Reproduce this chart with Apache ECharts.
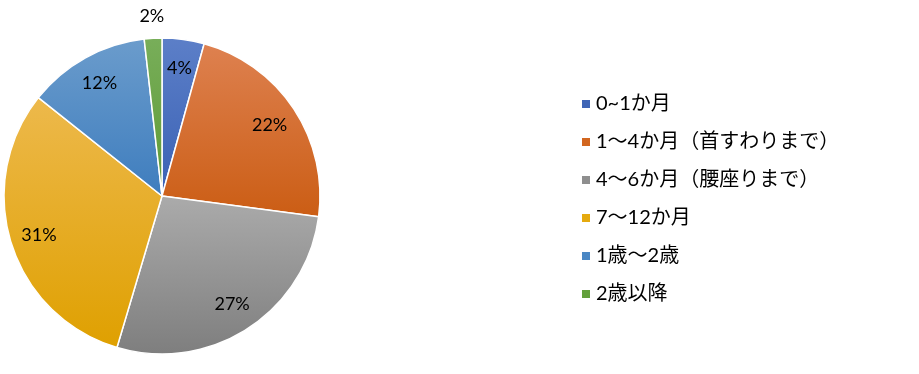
<!DOCTYPE html>
<html><head><meta charset="utf-8">
<script src="https://cdn.jsdelivr.net/npm/echarts@6/dist/echarts.min.js"></script>
<style>html,body{margin:0;padding:0;background:#fff}#c{width:919px;height:374px}</style>
</head><body><div id="c"></div>
<script>
var categories = ['0~1か月', '1～4か月（首すわりまで）', '4～6か月（腰座りまで）', '7～12か月', '1歳～2歳', '2歳以降'];
var values = [4.3, 22.8, 27.5, 31.1, 12.5, 1.8];
var pctLabels = ['4%', '22%', '27%', '31%', '12%', '2%'];
var topColors = ['#5C7FC8', '#DE8150', '#ABABAB', '#EDB94C', '#6B9CCC', '#78AE5A'];
var bottomColors = ['#3A61B4', '#CB5D14', '#7E7E7E', '#DFA000', '#3E7DBE', '#5E9A34'];
var legendColors = ['#3F65B6', '#D2661F', '#8E8E8E', '#E5AA0F', '#4A87C4', '#63A03C'];

var chart = echarts.init(document.getElementById('c'), null, {renderer: 'canvas'});
var center = [162, 196];
var R = 158;
function grad(i){
  return new echarts.graphic.LinearGradient(0, 0, 0, 1, [
    {offset: 0, color: topColors[i]}, {offset: 1, color: bottomColors[i]}]);
}
var mainData = categories.map(function(n, i){ return {name: n, value: values[i], itemStyle: {color: grad(i)}}; });
function pctText(p){ return pctLabels[p.dataIndex]; }
var innerLabels = categories.map(function(n, i){
  return {name: n, value: values[i], label: {show: i !== 5}};
});
var outerLabels = categories.map(function(n, i){
  return {name: n, value: values[i], label: {show: i === 5}};
});
var labelFont = {fontFamily: 'Lato, "Noto Sans CJK JP", sans-serif', fontSize: 18, color: '#000'};
chart.setOption({
  animation: false,
  backgroundColor: '#fff',
  legend: {
    orient: 'vertical', left: 580, top: 94, padding: 0,
    itemWidth: 10, itemHeight: 10, itemGap: 18,
    icon: 'rect',
    textStyle: {fontFamily: 'Lato, "Noto Sans CJK JP", sans-serif', fontSize: 20, lineHeight: 20, color: '#000'},
    data: categories.map(function(n, i){ return {name: n, itemStyle: {color: legendColors[i]}}; })
  },
  series: [
    {
      type: 'pie', center: center, radius: [0, R], startAngle: 90, clockwise: true,
      data: mainData, label: {show: false}, labelLine: {show: false},
      itemStyle: {borderColor: '#fff', borderWidth: 1.5}, silent: true
    },
    {
      type: 'pie', center: center, radius: [94, R], startAngle: 90, clockwise: true,
      data: innerLabels, silent: true, itemStyle: {color: 'transparent'},
      label: Object.assign({position: 'inside', formatter: pctText}, labelFont), labelLine: {show: false}
    },
    {
      type: 'pie', center: center, radius: [R, 196], startAngle: 90, clockwise: true,
      data: outerLabels, silent: true, itemStyle: {color: 'transparent'},
      label: Object.assign({position: 'inside', formatter: pctText}, labelFont), labelLine: {show: false}
    }
  ]
});
</script></body></html>
